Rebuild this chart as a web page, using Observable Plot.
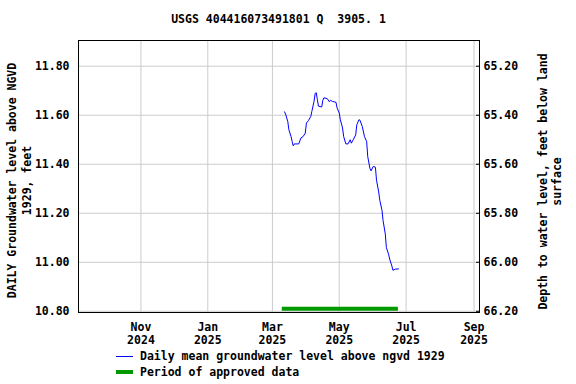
<!DOCTYPE html>
<html>
<head>
<meta charset="utf-8">
<script src="https://cdn.jsdelivr.net/npm/d3@7"></script>
<script src="https://cdn.jsdelivr.net/npm/@observablehq/plot@0.6"></script>
<style>
  body { margin: 0; background: #fff; }
  #wrap { position: relative; width: 576px; height: 384px; font-family: "DejaVu Sans Mono", monospace; font-weight: bold; font-size: 11.5px; color: #000; }
  #title { position: absolute; left: 0; width: 557px; top: 12px; text-align: center; white-space: pre; }
  .leg { position: absolute; left: 116px; white-space: pre; display: flex; align-items: center; }
  .sw { width: 17px; margin-right: 7px; }
  #chart { position: absolute; left: 0; top: 0; }
</style>
</head>
<body>
<div id="wrap">
  <div id="chart"></div>
  <div id="title">USGS 404416073491801 Q  3905. 1</div>
  <div class="leg" style="top:349px"><div class="sw" style="height:1px;background:#0000ff"></div>Daily mean groundwater level above ngvd 1929</div>
  <div class="leg" style="top:365px"><div class="sw" style="height:4px;background:#009900"></div>Period of approved data</div>
</div>
<script>
// Daily mean groundwater level (ft above NGVD 1929)
const dates = [
  "2025-03-12","2025-03-13","2025-03-15","2025-03-16","2025-03-18","2025-03-19","2025-03-20","2025-03-21",
  "2025-03-25","2025-03-27","2025-03-29","2025-03-31","2025-04-01","2025-04-03","2025-04-05","2025-04-06",
  "2025-04-08","2025-04-09","2025-04-10","2025-04-11","2025-04-12","2025-04-15","2025-04-16","2025-04-17",
  "2025-04-20","2025-04-22","2025-04-23","2025-04-25","2025-04-28","2025-04-29","2025-05-01","2025-05-02",
  "2025-05-04","2025-05-05","2025-05-07","2025-05-09","2025-05-11","2025-05-12","2025-05-14","2025-05-16",
  "2025-05-17","2025-05-19","2025-05-20","2025-05-22","2025-05-24","2025-05-26","2025-05-27","2025-05-29",
  "2025-05-30","2025-06-01","2025-06-03","2025-06-04","2025-06-06","2025-06-07","2025-06-09","2025-06-10",
  "2025-06-12","2025-06-13","2025-06-15","2025-06-16","2025-06-18","2025-06-19","2025-06-21","2025-06-24"
];
const levels = [
  11.614,11.605,11.575,11.541,11.513,11.493,11.475,11.483,
  11.483,11.507,11.513,11.527,11.568,11.579,11.595,11.616,
  11.657,11.689,11.692,11.664,11.637,11.634,11.661,11.671,
  11.668,11.655,11.661,11.656,11.653,11.630,11.609,11.582,
  11.548,11.513,11.483,11.483,11.500,11.486,11.502,11.520,
  11.561,11.582,11.579,11.554,11.513,11.493,11.431,11.383,
  11.373,11.391,11.388,11.335,11.287,11.253,11.212,11.170,
  11.116,11.060,11.033,11.013,10.985,10.967,10.972,10.973
];
const approvedStart = "2025-03-10";
const approvedEnd = "2025-06-24";
const landSurfaceDatum = 77.0; // depth = datum - level
const yTicks = [10.8, 11.0, 11.2, 11.4, 11.6, 11.8];
const xTicks = ["2024-11-01","2025-01-01","2025-03-01","2025-05-01","2025-07-01","2025-09-01"];
const xDomain = ["2024-09-05","2025-09-06"];
const yDomain = [10.795, 11.905];

const parse = d3.utcParse("%Y-%m-%d");
const series = dates.map((d, i) => ({date: parse(d), level: levels[i]}));
const xt = xTicks.map(parse);
const fmtMonth = d3.utcFormat("%b");
const fmtYear = d3.utcFormat("%Y");
const approved = [{x1: parse(approvedStart), x2: parse(approvedEnd), y: yTicks[0]}];

const font = "DejaVu Sans Mono";
const plot = Plot.plot({
  width: 576,
  height: 384,
  marginTop: 40,
  marginBottom: 72,
  marginLeft: 78,
  marginRight: 97,
  style: {fontFamily: font, fontSize: "11.5px", fontWeight: "bold", background: "transparent", color: "#000"},
  x: {type: "utc", domain: xDomain.map(parse)},
  y: {domain: yDomain},
  marks: [
    Plot.gridX(xt, {stroke: "#cccccc", strokeOpacity: 1}),
    Plot.gridY(yTicks, {stroke: "#cccccc", strokeOpacity: 1}),
    Plot.ruleY(approved, {x1: "x1", x2: "x2", y: "y", stroke: "#009900", strokeWidth: 4, dy: -2.5}),
    Plot.lineY(series, {x: "date", y: "level", stroke: "#0000ff", strokeWidth: 1}),
    Plot.frame({stroke: "#000", strokeWidth: 1}),
    Plot.axisX(xt, {anchor: "bottom", tickSize: 0, tickPadding: 9, lineHeight: 1.15, tickFormat: d => fmtMonth(d) + "\n" + fmtYear(d), label: null, fontWeight: "bold"}),
    Plot.axisY(yTicks, {anchor: "left", tickSize: 0, tickPadding: 9, tickFormat: d => d.toFixed(2), label: null}),
    Plot.axisY(yTicks, {anchor: "right", tickSize: -4, tickPadding: 8, tickFormat: d => (landSurfaceDatum - d).toFixed(2), label: null}),
    Plot.text(["DAILY Groundwater level above NGVD\n1929, feet"], {frameAnchor: "left", text: d => d, rotate: -90, dx: -60, dy: 4, lineHeight: 1.3, textAnchor: "middle", lineAnchor: "middle"}),
    Plot.text(["Depth to water level, feet below land\nsurface"], {frameAnchor: "right", text: d => d, rotate: -90, dx: 70, dy: 5, lineHeight: 1.2, textAnchor: "middle", lineAnchor: "middle"})
  ]
});
document.getElementById("chart").appendChild(plot);
</script>
</body>
</html>
